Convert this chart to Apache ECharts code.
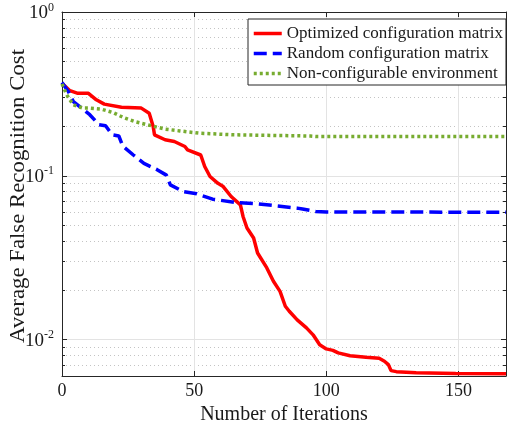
<!DOCTYPE html>
<html>
<head>
<meta charset="utf-8">
<script src="https://cdn.jsdelivr.net/npm/echarts@6/dist/echarts.min.js"></script>
<style>
  html, body { margin: 0; padding: 0; background: #ffffff; }
  #chart { width: 507px; height: 431px; }
</style>
</head>
<body>
<div id="chart"></div>
<script>
// Iteration numbers and average cost for each configuration strategy
const iterOptimized = [0, 3, 6, 10, 13, 16, 22.5, 30, 33, 34.5, 35, 39, 42.5, 46.5, 47.5, 52.5, 54, 56, 59, 61, 64, 67.5, 68.5, 70, 72.5, 74, 77.5, 80, 82.5, 84.5, 86, 89, 92.5, 95, 97.5, 100, 102.5, 104.5, 109, 115, 120, 122, 123.5, 124.5, 126.5, 134, 149, 168];
const costOptimized = [0.367, 0.331, 0.319, 0.319, 0.291, 0.274, 0.262, 0.259, 0.241, 0.200, 0.178, 0.166, 0.162, 0.151, 0.144, 0.134, 0.114, 0.099, 0.090, 0.086, 0.0748, 0.0665, 0.0565, 0.048, 0.0417, 0.0338, 0.0274, 0.0227, 0.0197, 0.0160, 0.0149, 0.0132, 0.0118, 0.0107, 0.0093, 0.00878, 0.0086, 0.0083, 0.00798, 0.0078, 0.00769, 0.00738, 0.00704, 0.00647, 0.00638, 0.00629, 0.00621, 0.00619];

const iterRandom = [0, 2.4, 4.3, 7.4, 10.5, 14, 16.5, 19, 21.5, 23, 27, 31, 36, 39.5, 41, 46, 51, 57, 66, 74, 81, 89, 91, 96, 100, 168];
const costRandom = [0.371, 0.327, 0.284, 0.259, 0.236, 0.205, 0.202, 0.178, 0.175, 0.152, 0.134, 0.119, 0.109, 0.101, 0.088, 0.080, 0.0777, 0.072, 0.0687, 0.0675, 0.0656, 0.0635, 0.0627, 0.0606, 0.0601, 0.0600];

const iterFixed = [0, 1.8, 4.3, 8, 10, 15, 19.4, 23.2, 27.6, 33.9, 38.9, 44.6, 52, 65, 94, 96, 168];
const costFixed = [0.364, 0.312, 0.271, 0.259, 0.259, 0.255, 0.243, 0.227, 0.214, 0.202, 0.193, 0.188, 0.182, 0.178, 0.175, 0.174, 0.174];

const seriesNames = ['Optimized configuration matrix', 'Random configuration matrix', 'Non-configurable environment'];
const xTitle = 'Number of Iterations';
const yTitle = 'Average False Recognition Cost';

// Axis ticks
const xTicks = [0, 50, 100, 150];
const yMajorTicks = [0.01, 0.1, 1];
const yMinorTicks = [0.007, 0.008, 0.009, 0.02, 0.03, 0.04, 0.05, 0.06, 0.07, 0.08, 0.09, 0.2, 0.3, 0.4, 0.5, 0.6, 0.7, 0.8, 0.9];

const pairs = (xs, ys) => xs.map((x, i) => [x, ys[i]]);

const FONT = '"Liberation Serif", "DejaVu Serif", serif';
const AXIS_COLOR = '#262626';
const TEXT_COLOR = '#1a1a1a';

const chart = echarts.init(document.getElementById('chart'), null, { renderer: 'canvas' });

const yBase = { type: 'log', logBase: 10, min: 0.006, max: 1 };

const option = {
  animation: false,
  backgroundColor: '#ffffff',
  textStyle: { fontFamily: FONT },
  grid: { left: 62, right: 1, top: 12, bottom: 55, containLabel: false, outerBoundsMode: 'none' },
  legend: {
    orient: 'vertical',
    left: 248,
    top: 19,
    padding: [6, 3, 3, 4],
    itemGap: 3,
    itemWidth: 28,
    itemHeight: 14,
    backgroundColor: '#ffffff',
    borderColor: AXIS_COLOR,
    borderWidth: 1,
    borderRadius: 0,
    itemStyle: { color: 'rgba(0,0,0,0)', borderWidth: 0, opacity: 0 },
    lineStyle: { width: 3.5 },
    textStyle: { fontFamily: FONT, fontSize: 17, lineHeight: 17, color: TEXT_COLOR },
    data: seriesNames
  },
  graphic: [
    {
      type: 'text',
      x: 19, y: 196,
      rotation: Math.PI / 2,
      scaleX: 1.14,
      silent: true,
      style: {
        text: yTitle,
        font: '20px ' + FONT,
        fill: TEXT_COLOR,
        textAlign: 'center',
        textVerticalAlign: 'middle'
      }
    }
  ],
  xAxis: [
    {
      type: 'value', min: 0, max: 168, position: 'bottom',
      name: xTitle, nameLocation: 'middle', nameGap: 24,
      nameTextStyle: { fontFamily: FONT, fontSize: 20, color: TEXT_COLOR },
      axisLine: { show: true, lineStyle: { color: AXIS_COLOR, width: 1 } },
      axisTick: { show: true, inside: true, length: 5, customValues: xTicks, lineStyle: { color: AXIS_COLOR } },
      axisLabel: { customValues: xTicks, margin: 6, fontFamily: FONT, fontSize: 18, color: TEXT_COLOR },
      splitLine: { show: true, lineStyle: { color: '#e3e3e3', width: 1 } }
    },
    {
      type: 'value', min: 0, max: 168, position: 'top',
      axisLine: { show: true, onZero: false, lineStyle: { color: AXIS_COLOR, width: 1 } },
      axisTick: { show: true, inside: true, length: 5, customValues: xTicks, lineStyle: { color: AXIS_COLOR } },
      axisLabel: { show: false },
      splitLine: { show: false }
    }
  ],
  yAxis: [
    Object.assign({}, yBase, {
      position: 'left',
      axisLine: { show: true, lineStyle: { color: AXIS_COLOR, width: 1 } },
      axisTick: { show: true, inside: true, length: 5, customValues: yMajorTicks, lineStyle: { color: AXIS_COLOR } },
      axisLabel: {
        customValues: yMajorTicks, margin: 8,
        formatter: v => '{b|10}{s|' + Math.round(Math.log10(v)) + '}',
        rich: {
          b: { fontFamily: FONT, fontSize: 19, color: TEXT_COLOR, verticalAlign: 'bottom' },
          s: { fontFamily: FONT, fontSize: 12, color: TEXT_COLOR, verticalAlign: 'bottom', padding: [0, 0, 9, 0] }
        }
      },
      splitLine: { show: true, lineStyle: { color: '#e3e3e3', width: 1 } }
    }),
    Object.assign({}, yBase, {
      position: 'left',
      axisLine: { show: false },
      axisTick: { show: true, inside: true, length: 3, customValues: yMinorTicks, lineStyle: { color: AXIS_COLOR } },
      axisLabel: { show: false },
      splitLine: { show: true, lineStyle: { color: '#c4c4c4', width: 1, type: [1, 3] } }
    }),
    Object.assign({}, yBase, {
      position: 'right',
      axisLine: { show: true, lineStyle: { color: AXIS_COLOR, width: 1 } },
      axisTick: { show: true, inside: true, length: 5, customValues: yMajorTicks, lineStyle: { color: AXIS_COLOR } },
      axisLabel: { show: false },
      splitLine: { show: false }
    }),
    Object.assign({}, yBase, {
      position: 'right',
      axisLine: { show: false },
      axisTick: { show: true, inside: true, length: 3, customValues: yMinorTicks, lineStyle: { color: AXIS_COLOR } },
      axisLabel: { show: false },
      splitLine: { show: false }
    })
  ],
  series: [
    {
      name: seriesNames[0], type: 'line', xAxisIndex: 0, yAxisIndex: 0,
      data: pairs(iterOptimized, costOptimized),
      symbol: 'none', showSymbol: false,
      lineStyle: { color: '#ff0000', width: 3.5 },
      itemStyle: { color: '#ff0000' }
    },
    {
      name: seriesNames[1], type: 'line', xAxisIndex: 0, yAxisIndex: 0,
      data: pairs(iterRandom, costRandom),
      symbol: 'none', showSymbol: false,
      lineStyle: { color: '#0000ff', width: 3.5, type: [13, 6] },
      itemStyle: { color: '#0000ff' }
    },
    {
      name: seriesNames[2], type: 'line', xAxisIndex: 0, yAxisIndex: 0,
      data: pairs(iterFixed, costFixed),
      symbol: 'none', showSymbol: false,
      lineStyle: { color: '#77ac30', width: 3.5, type: [3, 3] },
      itemStyle: { color: '#77ac30' }
    }
  ]
};

chart.setOption(option);
</script>
</body>
</html>
